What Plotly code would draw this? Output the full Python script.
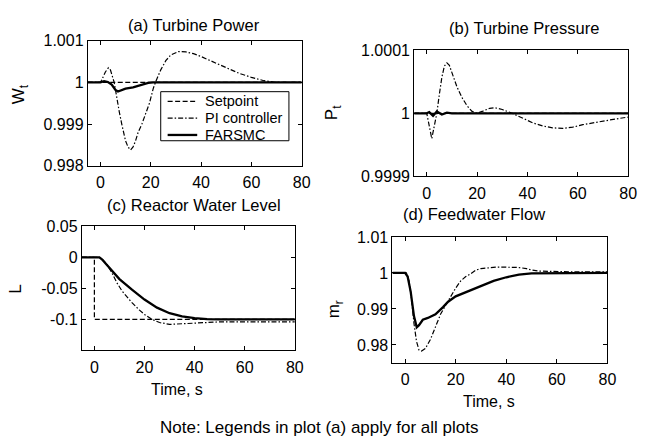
import plotly.graph_objects as go

# time axis and responses (t in seconds)
t_flat = [-5, 80]
sp_one = [1, 1]

# (a) turbine power
t_pi_a = [-5, 0, 0.5, 2, 3.2, 4, 5.5, 6.5, 7.5, 8.5, 10, 11, 12, 13, 14, 15, 16.5, 18, 19.5, 21, 22,
          24, 26, 28, 31, 34, 37, 40, 45, 50, 55, 60, 65, 70, 80]
pi_a = [1, 1, 1.00005, 1.00025, 1.00035, 1.0003, 1.0, 0.9996, 0.9993, 0.999, 0.9986, 0.99845, 0.99838,
        0.99845, 0.9986, 0.9988, 0.999, 0.99925, 0.9995, 0.99985, 1.00002, 1.0003, 1.00052, 1.00066,
        1.00074, 1.00073, 1.00069, 1.00062, 1.00049, 1.00035, 1.00022, 1.00012, 1.00004, 1.0, 1.0]
t_fs_a = [-5, 0, 1.5, 3, 4.5, 6, 7, 8, 10, 13, 15, 17, 19, 21, 80]
fs_a = [1, 1, 1.00003, 1.00001, 0.99995, 0.99982, 0.99978, 0.9998, 0.99985, 0.99988, 0.99992,
        0.99996, 0.99999, 1, 1]

# (b) turbine pressure
t_pi_b = [-5, 0, 1, 2, 3, 4, 5, 6, 7, 8, 9, 10, 12, 14, 16, 18, 20, 22, 25, 27, 30, 34, 38, 42, 46,
          50, 54, 58, 62, 66, 70, 75, 80]
pi_b = [1, 1, 0.99998, 0.99996, 0.99998, 1.0, 1.00003, 1.000057, 1.000075, 1.00008, 1.000076,
        1.000065, 1.000042, 1.000025, 1.000012, 1.000003, 1.0, 1.000003, 1.000008, 1.000009,
        1.000006, 1.0, 0.999992, 0.999985, 0.99998, 0.999977, 0.999976, 0.999978, 0.999982,
        0.999985, 0.999988, 0.999991, 0.999994]
t_fs_b = [-5, 0, 1, 2.5, 4, 6, 8, 10, 80]
fs_b = [1, 1, 1.000002, 0.999996, 1.000003, 0.999998, 1.000001, 1, 1]

# (c) reactor water level
t_sp_c = [-5, 0, 0, 80]
sp_c = [0, 0, -0.1, -0.1]
t_pi_c = [-5, 2, 3, 4, 5, 7, 9, 11, 13, 15, 18, 20, 23, 26, 30, 35, 40, 50, 60, 70, 80]
pi_c = [0, 0, -0.002, -0.006, -0.011, -0.025, -0.041, -0.054, -0.064, -0.073, -0.085, -0.092,
        -0.1, -0.105, -0.108, -0.107, -0.105, -0.104, -0.104, -0.104, -0.104]
t_fs_c = [-5, 0, 2, 3, 5, 7, 10, 15, 20, 25, 30, 35, 40, 45, 50, 80]
fs_c = [0, 0, 0, -0.003, -0.012, -0.022, -0.035, -0.052, -0.068, -0.081, -0.09, -0.095, -0.098,
        -0.0995, -0.1, -0.1]

# (d) feedwater flow (no setpoint line drawn in the original)
t_pi_d = [-5, 0.5, 1.5, 2.5, 3.5, 4.5, 5.5, 6.5, 8, 10, 12, 14, 16, 18, 20, 22, 24, 26, 28, 30, 33,
          36, 40, 45, 48, 50, 53, 57, 65, 80]
pi_d = [1, 1, 0.998, 0.993, 0.986, 0.981, 0.9786, 0.9783, 0.979, 0.9815, 0.985, 0.9885, 0.991,
        0.9935, 0.9958, 0.9978, 0.999, 0.9998, 1.0008, 1.0012, 1.0015, 1.0016, 1.0016, 1.0015,
        1.0012, 1.0008, 1.0005, 1.0004, 1.0003, 1.0003]
t_fs_d = [-5, 0, 1, 2.2, 3.5, 4.6, 5.5, 7, 9, 12, 15, 17, 20, 25, 30, 35, 40, 45, 50, 60, 80]
fs_d = [1, 1, 0.999, 0.9948, 0.988, 0.9849, 0.9855, 0.987, 0.9875, 0.9885, 0.9905, 0.992, 0.9935,
        0.995, 0.9965, 0.9978, 0.9988, 0.9995, 0.9999, 1, 1]

x_ticks = [0, 20, 40, 60, 80]
a_ticks = [0.998, 0.999, 1, 1.001]
a_text = ["0.998", "0.999", "1", "1.001"]
b_ticks = [0.9999, 1, 1.0001]
b_text = ["0.9999", "1", "1.0001"]
c_ticks = [-0.1, -0.05, 0, 0.05]
c_text = ["-0.1", "-0.05", "0", "0.05"]
d_ticks = [0.98, 0.99, 1, 1.01]
d_text = ["0.98", "0.99", "1", "1.01"]
legend_names = ["Setpoint", "PI controller", "FARSMC"]

W, H = 647, 446
FONT = "Liberation Sans, Arial, sans-serif"
SP = dict(color="black", width=1.2, dash="5px,2.5px")
PI = dict(color="black", width=1.2, dash="5px,2px,1.5px,2px")
FS = dict(color="black", width=2.3)
STYLES = [SP, PI, FS]


def px(x):
    return x / W


def py(y):
    return 1 - y / H


fig = go.Figure()

panels = [
    ("", [t_flat, t_pi_a, t_fs_a], [sp_one, pi_a, fs_a]),
    ("2", [t_flat, t_pi_b, t_fs_b], [sp_one, pi_b, fs_b]),
    ("3", [t_sp_c, t_pi_c, t_fs_c], [sp_c, pi_c, fs_c]),
    ("4", [None, t_pi_d, t_fs_d], [None, pi_d, fs_d]),
]
for s, xs, ys in panels:
    for nm, st, xx, yy in zip(legend_names, STYLES, xs, ys):
        if xx is None:
            continue
        fig.add_trace(go.Scatter(x=xx, y=yy, mode="lines", line=st, name=nm,
                                 showlegend=False, xaxis="x" + s, yaxis="y" + s))

ax = dict(showline=True, mirror="ticks", linecolor="black", linewidth=1, ticks="inside",
          ticklen=4, tickcolor="black", showgrid=False, zeroline=False,
          tickfont=dict(size=16, color="black"))


def xa(x0, x1, anchor):
    return dict(ax, domain=[px(x0), px(x1)], range=[-5, 80], tickvals=x_ticks, anchor=anchor,
                ticklabelstandoff=2)


def ya(y_top, y_bot, rng, tv, tt, anchor):
    return dict(ax, domain=[py(y_bot), py(y_top)], range=rng, tickvals=tv, ticktext=tt,
                anchor=anchor)


fig.update_layout(
    width=W, height=H, margin=dict(l=0, r=0, t=0, b=0), showlegend=False,
    paper_bgcolor="white", plot_bgcolor="white",
    font=dict(family=FONT, color="black", size=16),
    xaxis=xa(89, 306, "y"),
    yaxis=ya(34, 164, [0.998, 1.001], a_ticks, a_text, "x"),
    xaxis2=xa(420, 637, "y2"),
    yaxis2=ya(44, 175, [0.9999, 1.0001], b_ticks, b_text, "x2"),
    xaxis3=xa(83, 299, "y3"),
    yaxis3=ya(227, 356, [-0.15, 0.05], c_ticks, c_text, "x3"),
    xaxis4=xa(398, 616, "y4"),
    yaxis4=ya(238, 369, [0.975, 1.01], d_ticks, d_text, "x4"),
)

# titles, axis labels and the note
texts = [("(a) Turbine Power", 197, 18, 16.5, 0), ("(b) Turbine Pressure", 531, 21, 16.5, 0),
         ("(c) Reactor Water Level", 197, 205, 16.5, 0), ("(d) Feedwater Flow", 481, 214, 16.5, 0),
         ("Time, s", 180, 397, 16, 0), ("Time, s", 496, 409, 16, 0),
         ("W<sub>t</sub>", 20, 90, 17, -90), ("P<sub>t</sub>", 338, 109, 17, -90),
         ("L", 16, 292, 17, -90), ("m<sub>r</sub>", 340, 313, 17, -90),
         ("Note: Legends in plot (a) apply for all plots", 323, 436, 17, 0)]
for txt, x, y, size, ang in texts:
    fig.add_annotation(text=txt, x=px(x), y=py(y), xref="paper", yref="paper", showarrow=False,
                       font=dict(size=size), xanchor="center", yanchor="middle", textangle=ang)

# legend box drawn inside plot (a), as in the original
fig.add_shape(type="rect", xref="paper", yref="paper", x0=px(163), x1=px(293), y0=py(138),
              y1=py(87), line=dict(color="black", width=1), fillcolor="white", layer="above")
for i, (nm, st) in enumerate(zip(legend_names, STYLES)):
    row = 97 + 17.5 * i
    fig.add_shape(type="line", xref="paper", yref="paper", x0=px(170), x1=px(200), y0=py(row),
                  y1=py(row), line=st, layer="above")
    fig.add_annotation(text=nm, x=px(206), y=py(row), xref="paper", yref="paper", showarrow=False,
                       font=dict(size=14.5), xanchor="left", yanchor="middle")

# the page body has an 8px default margin; drop it so the figure sits at the top-left corner
fig.write_html("out.html", config={"displayModeBar": False},
               post_script="document.body.style.margin='0';")
